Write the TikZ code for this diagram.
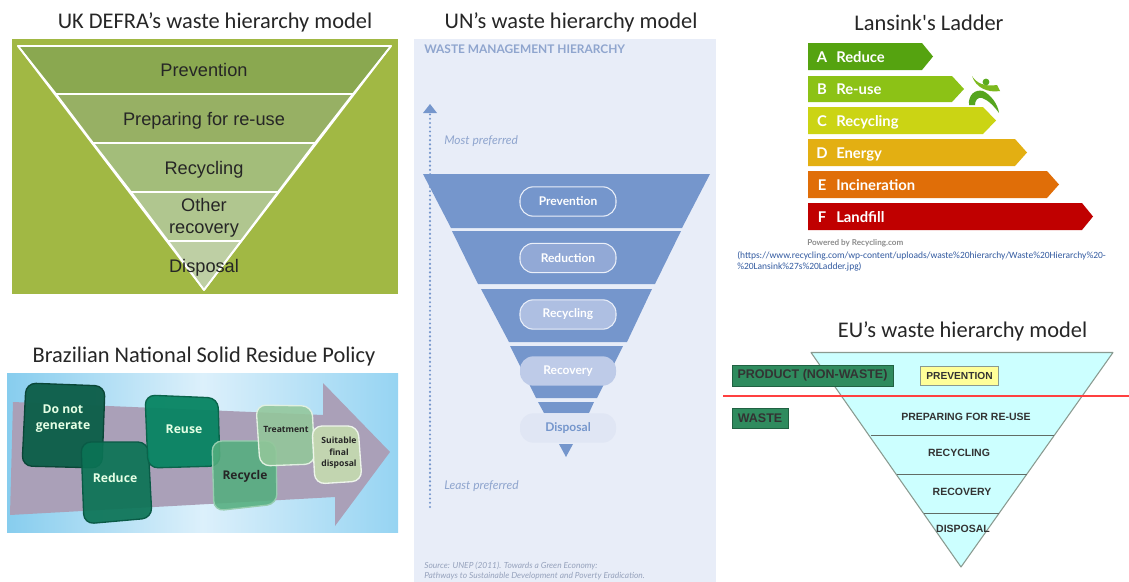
\documentclass[tikz,border=0pt]{standalone}
\usepackage{fontspec}
\setmainfont{Liberation Sans}
\newfontfamily\titlef{Carlito}
\newfontfamily\openf{Open Sans}
\newfontfamily\latof{Lato}
\usetikzlibrary{shadings}
\newcommand{\fs}[1]{\fontsize{\fpeval{0.75*#1}pt}{\fpeval{0.9*#1}pt}\selectfont}
\definecolor{defrabg}{HTML}{A1B844}
\definecolor{unbg}{HTML}{E8EDF8}
\definecolor{unblue}{HTML}{7596CC}
\definecolor{euface}{HTML}{CCFFFF}
\definecolor{euline}{HTML}{8A9A90}
\definecolor{eugreen}{HTML}{2F8B5E}
\definecolor{txt}{HTML}{262626}
\tikzset{
  title/.style={inner sep=0,text=black!85,font=\titlef\fs{22.4}},
  defraband/.style={draw=white,line width=1.3pt,line join=round},
  defratext/.style={inner sep=0,text=txt,align=center,font=\fs{18.2}},
  tile/.style={rounded corners=7.5pt,line width=1pt},
  tiletext/.style={inner sep=0,align=center,font=\openf\bfseries},
  unband/.style={fill=unblue},
  unpill/.style={rounded corners=10pt,minimum width=72pt,minimum height=22pt,inner sep=0,text=white,font=\latof\bfseries\fs{12}},
  rung/.style={inner sep=0,text=white,font=\latof\bfseries\fs{14.8}},
  eutext/.style={inner sep=0,text=black!80,font=\bfseries\fs{10.5}},
  eubox/.style={fill=eugreen,draw=eugreen!70!black,line width=0.5pt,inner sep=0,text=black!80,font=\bfseries\fs{12.5}},
}
\begin{document}
\begin{tikzpicture}[x=0.75pt,y=-0.75pt]
\useasboundingbox (0,0) rectangle (1129,582);
\fill[white] (0,0) rectangle (1129,582);

% ---------- UK DEFRA
\node[title] (t1) at (215,22.5) {UK DEFRA’s waste hierarchy model};
\fill[defrabg] (12,39) rectangle (398,294);
\fill[defraband,fill={rgb,255:red,138;green,168;blue,80}] (18,46) -- (391,46) -- (353,94) -- (56,94) -- cycle;
\fill[defraband,fill={rgb,255:red,151;green,176;blue,100}] (56,94) -- (353,94) -- (315,143) -- (93,143) -- cycle;
\fill[defraband,fill={rgb,255:red,163;green,189;blue,122}] (93,143) -- (315,143) -- (278,192) -- (131,192) -- cycle;
\fill[defraband,fill={rgb,255:red,176;green,198;blue,143}] (131,192) -- (278,192) -- (241,241) -- (168,241) -- cycle;
\fill[defraband,fill={rgb,255:red,190;green,207;blue,164}] (168,241) -- (241,241) -- (204,290) -- cycle;
\draw[defraband] (18,46) -- (391,46) -- (204,290) -- cycle;
\node[defratext] (d1) at (204,70) {Prevention};
\node[defratext] (d2) at (204,120.5) {Preparing for re-use};
\node[defratext] (d3) at (204,169.5) {Recycling};
\node[defratext] (d4) at (204,218) {Other\\recovery};
\node[defratext] (d5) at (204,267.5) {Disposal};

% ---------- Brazilian policy
\node[title] (t2) at (204,356.5) {Brazilian National Solid Residue Policy};
\shade[left color={rgb,255:red,135;green,205;blue,238},right color={rgb,255:red,150;green,212;blue,242},middle color={rgb,255:red,220;green,240;blue,251}] (7,373) rectangle (398,532);
\fill[fill={rgb,255:red,170;green,160;blue,184}] (13,402) -- (323,415) -- (323,383) -- (390,452) -- (335,526) -- (335,497) -- (10,515) -- cycle;
\filldraw[tile,fill={rgb,255:red,14;green,95;blue,74},draw={rgb,255:red,10;green,70;blue,55},fill opacity=.97] (26,383) -- (105,386) -- (102,468) -- (22,466) -- cycle;
\filldraw[tile,fill={rgb,255:red,11;green,115;blue,85},draw={rgb,255:red,10;green,90;blue,70},fill opacity=.92] (81,442) -- (148,442) -- (152,518) -- (84,524) -- cycle;
\filldraw[tile,fill={rgb,255:red,7;green,132;blue,98},draw={rgb,255:red,10;green,100;blue,75},fill opacity=.95] (145,395) -- (218,398) -- (220,466) -- (148,468) -- cycle;
\filldraw[tile,fill={rgb,255:red,84;green,174;blue,126},draw={rgb,255:red,150;green,205;blue,175},fill opacity=.88] (212,441) -- (276,441) -- (277,504) -- (214,511) -- cycle;
\filldraw[tile,fill={rgb,255:red,147;green,199;blue,154},draw={rgb,255:red,225;green,240;blue,225},fill opacity=.88] (256,405) -- (312,406) -- (315,464) -- (260,466) -- cycle;
\filldraw[tile,fill={rgb,255:red,196;green,216;blue,176},draw={rgb,255:red,238;green,245;blue,235},fill opacity=.95] (312,426) -- (358,426) -- (362,481) -- (315,484) -- cycle;
\node[tiletext,text=white!90!green,font=\openf\bfseries\fs{12.2},align=center] (b1) at (63,418.5) {Do not\\[1.5pt]generate};
\node[tiletext,text=white!90!green,font=\openf\bfseries\fs{12.2}] (b2) at (115,478) {Reduce};
\node[tiletext,text=white!90!green,font=\openf\bfseries\fs{12.2}] (b3) at (184,429) {Reuse};
\node[tiletext,text=black!85,font=\openf\bfseries\fs{12}] (b4) at (245,476) {Recycle};
\node[tiletext,text=black!85,font=\openf\bfseries\fs{8.6}] (b5) at (286,429) {Treatment};
\node[tiletext,text=black!85,font=\openf\bfseries\fs{8.6}] (b6) at (339,453) {Suitable\\[1pt]final\\[1pt]disposal};

% ---------- UN
\node[title] (t3) at (571,22.5) {UN’s waste hierarchy model};
\fill[unbg] (414,39) rectangle (716,582);
\node[inner sep=0,anchor=west,text={rgb,255:red,143;green,165;blue,206},font=\latof\bfseries\fs{11.9}] (u0) at (424,49) {WASTE MANAGEMENT HIERARCHY};
\coordinate (dottop) at (430,113);
\coordinate (dotbot) at (430,507);
\draw[unblue,line width=1.8pt,line cap=round,dash pattern=on 0pt off 3.2pt] (dotbot) -- (dottop);
\fill[unblue] (423,113) -- (430,104) -- (437,113) -- cycle;
\node[inner sep=0,anchor=west,text={rgb,255:red,143;green,165;blue,206},font=\latof\itshape\fs{12}] (u1) at (444,141) {Most preferred};
\node[inner sep=0,anchor=west,text={rgb,255:red,143;green,165;blue,206},font=\latof\itshape\fs{12}] (u2) at (444,486.5) {Least preferred};
\fill[unband] (423,174) -- (710,174) -- (682,228) -- (451,228) -- cycle;
\fill[unband] (452,231) -- (681,231) -- (655,284) -- (478,284) -- cycle;
\fill[unband] (481,289) -- (652,289) -- (627,342) -- (509,342) -- cycle;
\fill[unband] (510,346) -- (623,346) -- (597,398) -- (536,398) -- cycle;
\fill[unband] (538,402) -- (594,402) -- (589,413) -- (544,413) -- cycle;
\fill[unband] (559,444) -- (573,444) -- (566,457) -- cycle;
\node[unpill,fill=unblue,draw=unbg!90!white,line width=.8pt] (u3) at (568,201.5) {Prevention};
\node[unpill,fill={rgb,255:red,146;green,169;blue,214},draw=unbg!90!white,line width=.8pt] (u4) at (568,258) {Reduction};
\node[unpill,fill={rgb,255:red,174;green,191;blue,226},draw=unbg!90!white,line width=.8pt] (u5) at (568,314.5) {Recycling};
\node[unpill,fill={rgb,255:red,190;green,203;blue,232}] (u6) at (568,371) {Recovery};
\node[unpill,fill={rgb,255:red,224;green,230;blue,244},text=unblue] (u7) at (568,428) {Disposal};
\node[inner sep=0,anchor=north west,align=left,text={rgb,255:red,150;green,162;blue,188},font=\latof\itshape\fs{8.4}] (u8) at (424,562) {Source: UNEP (2011). Towards a Green Economy:\\Pathways to Sustainable Development and Poverty Eradication.};

% ---------- Lansink
\node[title] (t4) at (929,22.5) {Lansink's Ladder};
\fill[fill={rgb,255:red,85;green,163;blue,16}] (808,43) -- (922,43) -- (933,56.5) -- (922,70) -- (808,70) -- cycle;
\fill[fill={rgb,255:red,140;green,194;blue,22}] (808,76) -- (952,76) -- (964,89) -- (952,102) -- (808,102) -- cycle;
\fill[fill={rgb,255:red,203;green,212;blue,20}] (808,107) -- (983,107) -- (996,120.5) -- (983,134) -- (808,134) -- cycle;
\fill[fill={rgb,255:red,227;green,175;blue,18}] (808,139) -- (1015,139) -- (1027,152.5) -- (1015,166) -- (808,166) -- cycle;
\fill[fill={rgb,255:red,224;green,110;blue,8}] (808,171) -- (1047,171) -- (1059,184.5) -- (1047,198) -- (808,198) -- cycle;
\fill[fill={rgb,255:red,192;green,0;blue,0}] (808,203) -- (1082,203) -- (1093,216.5) -- (1082,230) -- (808,230) -- cycle;
\node[rung] (l1a) at (822,57) {A};\node[rung,anchor=west] (l1) at (836,57) {Reduce};
\node[rung] (l2a) at (822,89) {B};\node[rung,anchor=west] (l2) at (836,89) {Re-use};
\node[rung] (l3a) at (822,121) {C};\node[rung,anchor=west] (l3) at (836,122) {Recycling};
\node[rung] (l4a) at (822,153) {D};\node[rung,anchor=west] (l4) at (836,154) {Energy};
\node[rung] (l5a) at (822,185) {E};\node[rung,anchor=west] (l5) at (836,185) {Incineration};
\node[rung] (l6a) at (822,217) {F};\node[rung,anchor=west] (l6) at (836,217) {Landfill};
% runner logo
\fill[fill={rgb,255:red,90;green,170;blue,30}] (986,82) circle (3.4);
\fill[fill={rgb,255:red,125;green,185;blue,30}] (972,76) .. controls (976,83) and (985,87) .. (997,85) -- (1000,91) .. controls (988,93) and (976,88) .. (972,76) -- cycle;
\fill[fill={rgb,255:red,85;green,165;blue,30}] (969,105) .. controls (968,95) and (975,89) .. (983,91) .. controls (990,94) and (998,104) .. (999,113) .. controls (994,106) and (988,100) .. (982,98) .. controls (978,97) and (975,100) .. (975,105) -- cycle;
\node[inner sep=0,anchor=west,text=black!45,font=\latof\bfseries\fs{8.1}] (l7) at (807,243) {Powered by Recycling.com};
\node[inner sep=0,anchor=west,align=left,text={rgb,255:red,50;green,90;blue,160},font=\titlef\fs{9.5}] (l8) at (737,261.5) {(https://www.recycling.com/wp-content/uploads/waste\%20hierarchy/Waste\%20Hierarchy\%20-\\\%20Lansink\%27s\%20Ladder.jpg)};

% ---------- EU
\node[title] (t5) at (962.5,331.5) {EU’s waste hierarchy model};
\filldraw[fill=euface,draw=euline,line width=.8pt,line join=round] (811,352.5) -- (1113,352.5) -- (961,567) -- cycle;
\draw[euline!70!black,line width=.7pt] (871,435) -- (1054,435);
\draw[euline!70!black,line width=.7pt] (897,474) -- (1027,474);
\draw[euline!70!black,line width=.7pt] (924,513) -- (999,513);
\coordinate (redl) at (723,396);
\coordinate (redr) at (1129,396);
\draw[red!75!white,line width=1.4pt] (redl) -- (redr);
\node[eubox,minimum width=121pt,minimum height=15.8pt] (e1) at (812.5,375.5) {PRODUCT (NON-WASTE)};
\node[eubox,minimum width=42pt,minimum height=15pt] (e2) at (760,418) {WASTE};
\node[draw=euline,fill={rgb,255:red,255;green,255;blue,153},line width=.6pt,inner sep=0,minimum width=59pt,minimum height=14.3pt,text=black!80,font=\bfseries\fs{10.2}] (e3) at (959.5,376) {PREVENTION};
\node[eutext] (e4) at (966,417) {PREPARING FOR RE-USE};
\node[eutext] (e5) at (959,453) {RECYCLING};
\node[eutext] (e6) at (962,492) {RECOVERY};
\node[eutext] (e7) at (963,529) {DISPOSAL};
\end{tikzpicture}
\end{document}
